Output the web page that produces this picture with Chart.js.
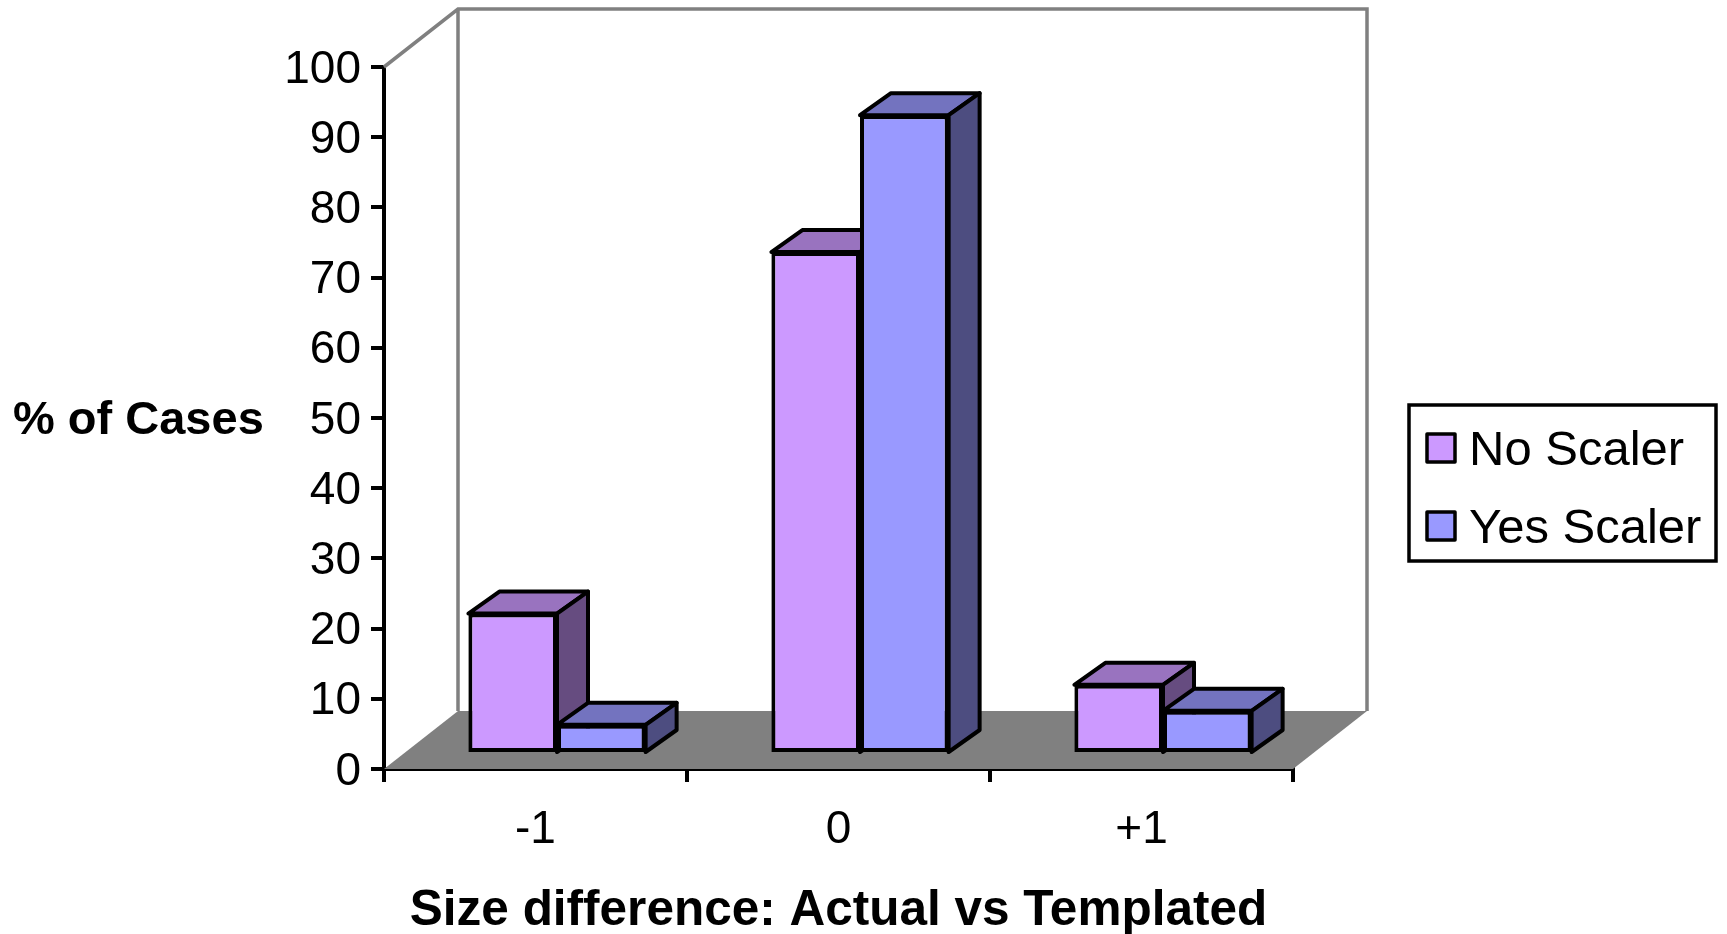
<!DOCTYPE html>
<html>
<head>
<meta charset="utf-8">
<title>Size difference</title>
<script src="https://cdn.jsdelivr.net/npm/chart.js@4"></script>
<style>
html, body { margin: 0; padding: 0; background: #fff; }
canvas { display: block; }
</style>
</head>
<body>
<canvas id="sizeChart" width="1727" height="934"></canvas>
<script>
const categories = ['-1', '0', '+1'];
const noScaler = [20.0, 71.5, 9.85];
const yesScaler = [4.15, 91.0, 6.15];
const yTicks = [0, 10, 20, 30, 40, 50, 60, 70, 80, 90, 100];

const FONT = '"Liberation Sans", Arial, sans-serif';
const colors = [
    { front: '#CC99FF', top: '#9973BF', side: '#664C80' },
    { front: '#9999FF', top: '#7373BF', side: '#4D4D80' }
];

// draws the back wall, floor and 3D bar faces around the library's bars
const box3d = {
    id: 'box3d',
    // tick labels sit a little below their tick marks in the original
    afterUpdate(chart) {
        chart.scales.y.getLabelItems().forEach(item => {
            item.options.translation[1] += 3;
        });
    },
    beforeDatasetsDraw(chart) {
        const ctx = chart.ctx;
        const area = chart.chartArea;
        const wallX = 74, wallY = 58;

        ctx.save();
        ctx.strokeStyle = '#808080';
        ctx.lineWidth = 3.5;
        ctx.beginPath();
        ctx.moveTo(area.left, area.top);
        ctx.lineTo(area.left + wallX, area.top - wallY);
        ctx.lineTo(area.right + wallX, area.top - wallY);
        ctx.lineTo(area.right + wallX, area.bottom - wallY);
        ctx.moveTo(area.left + wallX, area.top - wallY);
        ctx.lineTo(area.left + wallX, area.bottom - wallY);
        ctx.stroke();

        ctx.fillStyle = '#808080';
        ctx.beginPath();
        ctx.moveTo(area.left, area.bottom);
        ctx.lineTo(area.right, area.bottom);
        ctx.lineTo(area.right + wallX, area.bottom - wallY);
        ctx.lineTo(area.left + wallX, area.bottom - wallY);
        ctx.closePath();
        ctx.fill();
        ctx.restore();

        // bars sit in front of the back wall, lifted off the axis
        const shiftX = 21.5, shiftY = -15;
        const depthX = 31, depthY = 22;
        chart.data.datasets.forEach((ds, i) => {
            chart.getDatasetMeta(i).data.forEach(bar => {
                const p = bar.getProps(['x', 'y', 'base', 'width'], true);
                const l = p.x - p.width / 2 + shiftX;
                const r = p.x + p.width / 2 + shiftX;
                const t = p.y + shiftY;
                const b = p.base + shiftY;

                ctx.save();
                ctx.strokeStyle = '#000';
                ctx.lineWidth = 4;
                ctx.lineJoin = 'round';

                ctx.fillStyle = colors[i].top;
                ctx.beginPath();
                ctx.moveTo(l, t);
                ctx.lineTo(l + depthX, t - depthY);
                ctx.lineTo(r + depthX, t - depthY);
                ctx.lineTo(r, t);
                ctx.closePath();
                ctx.fill();
                ctx.stroke();

                ctx.fillStyle = colors[i].side;
                ctx.beginPath();
                ctx.moveTo(r, t);
                ctx.lineTo(r + depthX, t - depthY);
                ctx.lineTo(r + depthX, b - depthY);
                ctx.lineTo(r, b);
                ctx.closePath();
                ctx.fill();
                ctx.stroke();

                ctx.translate(shiftX, shiftY);
                bar.draw(ctx);
                ctx.restore();
            });
        });
    },
    // the faces above already painted the bars in series order
    beforeDatasetDraw() {
        return false;
    },
    afterDraw(chart) {
        const ctx = chart.ctx;
        ctx.save();

        // horizontal y axis title
        ctx.fillStyle = '#000';
        ctx.font = 'bold 47px ' + FONT;
        ctx.textAlign = 'left';
        ctx.textBaseline = 'middle';
        ctx.fillText('% of Cases', 13, 421);

        // legend box
        ctx.strokeStyle = '#000';
        ctx.lineWidth = 3.5;
        ctx.strokeRect(1409, 405, 307, 156);
        ctx.font = '49px ' + FONT;
        ctx.textBaseline = 'alphabetic';
        ctx.lineJoin = 'round';
        const swatchY = [434, 512];
        const textY = [465, 543];
        chart.data.datasets.forEach((ds, i) => {
            ctx.fillStyle = colors[i].front;
            ctx.fillRect(1427, swatchY[i], 28, 28);
            ctx.strokeRect(1427, swatchY[i], 28, 28);
            ctx.fillStyle = '#000';
            ctx.fillText(ds.label, 1469, textY[i]);
        });
        ctx.restore();
    }
};

new Chart(document.getElementById('sizeChart'), {
    type: 'bar',
    data: {
        labels: categories,
        datasets: [
            { label: 'No Scaler', data: noScaler, backgroundColor: colors[0].front },
            { label: 'Yes Scaler', data: yesScaler, backgroundColor: colors[1].front }
        ]
    },
    plugins: [box3d],
    options: {
        responsive: false,
        animation: false,
        devicePixelRatio: 1,
        layout: { padding: { top: 67, right: 434, left: 0, bottom: 0 } },
        datasets: {
            bar: {
                barPercentage: 1,
                categoryPercentage: 0.585,
                borderColor: '#000',
                borderWidth: 4,
                borderSkipped: false
            }
        },
        plugins: {
            legend: { display: false },
            tooltip: { enabled: false }
        },
        scales: {
            x: {
                grid: { drawOnChartArea: false, color: '#000', lineWidth: 4, tickLength: 13, offset: true },
                border: { color: '#000', width: 4 },
                ticks: { color: '#000', font: { family: FONT, size: 46, lineHeight: 1 }, padding: 25, maxRotation: 0 },
                title: {
                    display: true,
                    text: 'Size difference: Actual vs Templated',
                    color: '#000',
                    font: { family: FONT, size: 49.5, weight: 'bold', lineHeight: 1 },
                    padding: { top: 0, bottom: -2 }
                },
                afterFit(scale) { scale.height = 165; }
            },
            y: {
                min: 0,
                max: 100,
                afterBuildTicks(scale) { scale.ticks = yTicks.map(v => ({ value: v })); },
                grid: { drawOnChartArea: false, color: '#000', lineWidth: 4, tickLength: 13 },
                border: { color: '#000', width: 4 },
                ticks: { color: '#000', font: { family: FONT, size: 46 }, padding: 10 },
                afterFit(scale) { scale.width = 384; }
            }
        }
    }
});
</script>
</body>
</html>
